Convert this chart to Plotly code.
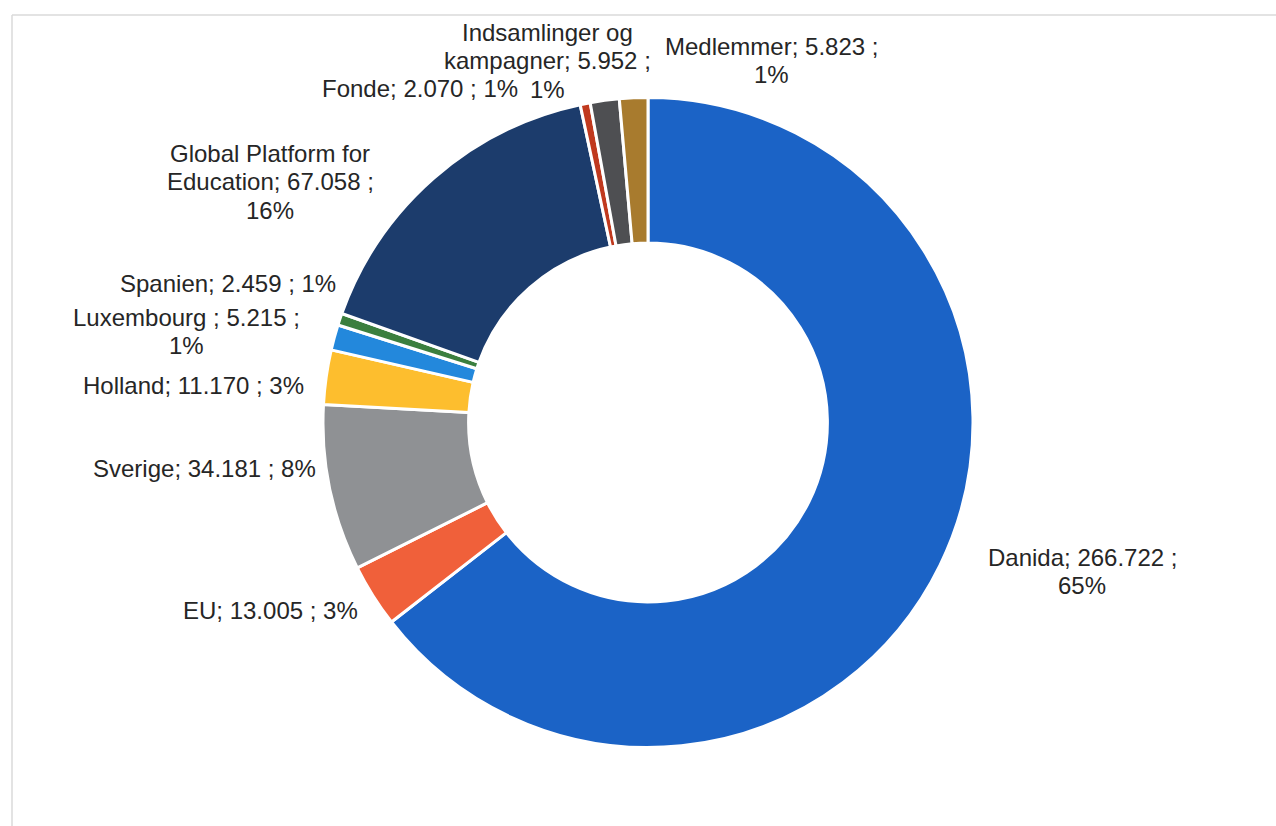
import plotly.graph_objects as go

# ---- data ----
sources = ["Danida", "EU", "Sverige", "Holland", "Luxembourg", "Spanien",
           "Global Platform for Education", "Fonde", "Indsamlinger og kampagner", "Medlemmer"]
amounts = [266722, 13005, 34181, 11170, 5215, 2459, 67058, 2070, 5952, 5823]
pct_labels = ["65%", "3%", "8%", "3%", "1%", "1%", "16%", "1%", "1%", "1%"]
colors = ["#1B63C6", "#F0603A", "#8F9194", "#FDBE2E", "#2388DC", "#3B7F3E",
          "#1C3C6C", "#C0391E", "#4E4F52", "#A87B2E"]

# label layout: number of word tokens per wrapped line, and pixel centre of each label block
line_tokens = [[2, 1], [], [], [], [2, 1], [], [3, 2, 1], [], [2, 2, 1], [2, 1]]
label_px = [(1082, 571), (270, 610), (204, 468), (193, 385), (187, 331), (228, 283),
            (270, 182), (420, 88), (547, 61), (771, 60)]

W, H = 1276, 826
cx, cy, R = 648, 422.5, 325
LINE = 28
FONT = dict(family="Liberation Sans, Arial, sans-serif", size=24, color="#262626")


def fmt(v):
    return f"{v:,}".replace(",", ".")


def label_lines(i):
    name_words = sources[i].split(" ")
    if sources[i] == "Luxembourg":
        name_words[-1] += " ;"
    else:
        name_words[-1] += ";"
    toks = name_words + [f"{fmt(amounts[i])} ;", pct_labels[i]]
    counts = line_tokens[i] or [len(toks)]
    lines, pos = [], 0
    for c in counts:
        lines.append(" ".join(toks[pos:pos + c]))
        pos += c
    return lines


fig = go.Figure(go.Pie(
    labels=sources,
    values=amounts,
    hole=0.552,
    sort=False,
    direction="clockwise",
    rotation=0,
    textinfo="none",
    hoverinfo="label+value+percent",
    marker=dict(colors=colors, line=dict(color="white", width=3)),
    domain=dict(x=[(cx - R) / W, (cx + R) / W], y=[(H - cy - R) / H, (H - cy + R) / H]),
    showlegend=False,
))

annotations = []
for i in range(len(sources)):
    px, py = label_px[i]
    lines = label_lines(i)
    n = len(lines)
    for k, ln in enumerate(lines):
        ly = py + (k - (n - 1) / 2) * LINE
        annotations.append(dict(
            x=px / W, y=1 - ly / H, xref="paper", yref="paper",
            xanchor="center", yanchor="middle", align="center",
            text=ln, showarrow=False, font=FONT,
        ))

shapes = [
    dict(type="line", xref="paper", yref="paper", x0=12 / W, x1=1, y0=1 - 15 / H, y1=1 - 15 / H,
         line=dict(color="#DADADA", width=1.5)),
    dict(type="line", xref="paper", yref="paper", x0=12 / W, x1=12 / W, y0=0, y1=1 - 15 / H,
         line=dict(color="#DADADA", width=1.5)),
]

fig.update_layout(
    width=W, height=H,
    margin=dict(l=0, r=0, t=0, b=0),
    paper_bgcolor="white", plot_bgcolor="white",
    annotations=annotations, shapes=shapes,
)

fig.write_html("out.html")
